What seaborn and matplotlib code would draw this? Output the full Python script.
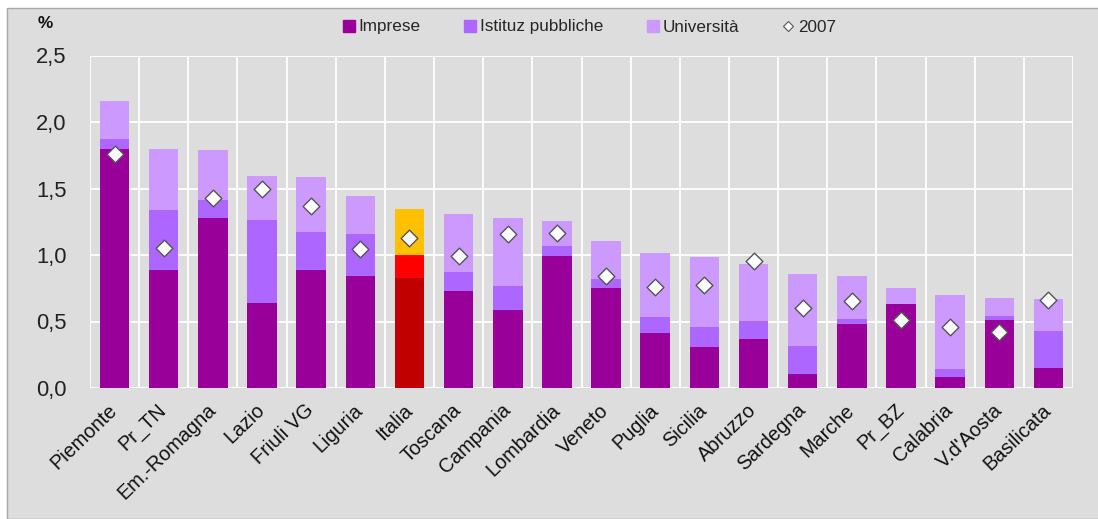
import numpy as np
import pandas as pd
import matplotlib
matplotlib.use("Agg")
import matplotlib.pyplot as plt
from matplotlib.lines import Line2D
from matplotlib.patches import Rectangle
from matplotlib.ticker import MultipleLocator
from matplotlib import font_manager
import seaborn as sns

# ── Data ──────────────────────────────────────────────────────────────────────
regions = ["Piemonte", "Pr_TN", "Em.-Romagna", "Lazio", "Friuli VG", "Liguria",
           "Italia", "Toscana", "Campania", "Lombardia", "Veneto", "Puglia",
           "Sicilia", "Abruzzo", "Sardegna", "Marche", "Pr_BZ", "Calabria",
           "V.d'Aosta", "Basilicata"]
imprese = [1.80, 0.885, 1.28, 0.64, 0.885, 0.845, 0.825, 0.73, 0.585, 0.99,
           0.75, 0.41, 0.305, 0.37, 0.105, 0.48, 0.635, 0.083, 0.515, 0.15]
istituz = [0.075, 0.45, 0.135, 0.625, 0.29, 0.31, 0.175, 0.145, 0.18, 0.077,
           0.067, 0.125, 0.155, 0.135, 0.21, 0.04, 0.0, 0.06, 0.03, 0.28]
universita = [0.28, 0.465, 0.375, 0.33, 0.41, 0.29, 0.345, 0.435, 0.51, 0.19,
              0.285, 0.48, 0.525, 0.43, 0.54, 0.325, 0.115, 0.556, 0.135, 0.24]
val_2007 = [1.76, 1.05, 1.426, 1.496, 1.371, 1.043, 1.13, 0.995, 1.16, 1.168,
            0.84, 0.762, 0.774, 0.957, 0.599, 0.657, 0.511, 0.456, 0.424, 0.66]
y_ticks = [0.0, 0.5, 1.0, 1.5, 2.0, 2.5]
y_ticklabels = ["0,0", "0,5", "1,0", "1,5", "2,0", "2,5"]
series_labels = ["Imprese", "Istituz pubbliche", "Università", "2007"]
highlight = "Italia"

# ── Style ─────────────────────────────────────────────────────────────────────
BG = "#DDDDDD"
C_IMP, C_IST, C_UNI = "#990099", "#AD66FF", "#CC99FF"
H_IMP, H_IST, H_UNI = "#C00000", "#FF0000", "#FFC000"

installed = {f.name for f in font_manager.fontManager.ttflist}
NARROW = [f for f in ["Liberation Sans Narrow", "DejaVu Sans Condensed"] if f in installed]
NARROW = NARROW[:1] + ["Liberation Sans", "DejaVu Sans"]
narrow_ok = NARROW[0] != "Liberation Sans"
NSIZE = 1.0 if narrow_ok else 0.88   # shrink if no condensed face is there

sns.set_theme(style="white")
plt.rcParams["font.family"] = ["Liberation Sans", "DejaVu Sans"]

df = pd.DataFrame({"region": regions, "imp": imprese, "ist": istituz,
                   "uni": universita, "y2007": val_2007})
df["lvl2"] = df["imp"] + df["ist"]
df["total"] = df["lvl2"] + df["uni"]

def cols(base, hl):
    return [hl if r == highlight else base for r in regions]

fig = plt.figure(figsize=(10.98, 5.19), dpi=100, facecolor="white")
panel = Rectangle((7 / 1098, 0), 1, 1 - 8 / 519, transform=fig.transFigure,
                  facecolor=BG, edgecolor="#A8A8A8", lw=1, zorder=-5)
fig.patches.append(panel)
ax = fig.add_axes([90 / 1098, 1 - 388 / 519, (1073 - 90) / 1098, (388 - 55.5) / 519])
ax.set_facecolor(BG)

# stacked bars: draw cumulative totals, tallest first
for col, base, hl in [("total", C_UNI, H_UNI), ("lvl2", C_IST, H_IST), ("imp", C_IMP, H_IMP)]:
    sns.barplot(data=df, x="region", y=col, hue="region", palette=cols(base, hl),
                legend=False, width=0.6, saturation=1, ax=ax, zorder=2, linewidth=0)

sns.stripplot(data=df, x="region", y="y2007", jitter=False, marker="D", size=8.5,
              color="white", edgecolor="#555555", linewidth=1, ax=ax, zorder=4)

ax.set_ylim(0, 2.5)
ax.set_xlim(-0.5, len(regions) - 0.5)
ax.set_yticks(y_ticks)
ax.set_yticklabels(y_ticklabels, family=NARROW, fontsize=18 * NSIZE, color="#222222")
ax.set_xticks(range(len(regions)))
ax.set_xticklabels(regions, rotation=44, ha="right", va="center",
                   rotation_mode="anchor", fontsize=14.3, color="#111111")
ax.tick_params(axis="x", length=0, pad=14)
ax.tick_params(axis="y", length=0, pad=17)
ax.xaxis.set_minor_locator(MultipleLocator(1, offset=0.5))
ax.grid(axis="y", color="white", lw=1.3, zorder=1)
ax.grid(axis="x", which="minor", color="white", lw=1.3, zorder=1)
ax.grid(axis="x", which="major", visible=False)
ax.set_axisbelow(True)
for s in ax.spines.values():
    s.set_visible(False)
ax.set_xlabel("")
ax.set_ylabel("")

fig.text(45 / 1098, 1 - 24 / 519, "%", family=NARROW, fontsize=14 * NSIZE, fontweight="bold",
         va="center", ha="center", color="#111111")

handles = [Line2D([], [], ls="", marker="s", markersize=8, color=c) for c in (C_IMP, C_IST, C_UNI)]
handles.append(Line2D([], [], ls="", marker="D", markersize=5.5, markerfacecolor="white",
                      markeredgecolor="#555555", markeredgewidth=0.8))
fig.legend(handles, series_labels, loc="center", bbox_to_anchor=(590 / 1098, 1 - 27 / 519),
           ncol=4, frameon=False, handlelength=0.6, handletextpad=0.25, columnspacing=2.6,
           prop={"family": NARROW, "size": 14 * NSIZE})

fig.savefig("out.png", dpi=100, facecolor="white")
